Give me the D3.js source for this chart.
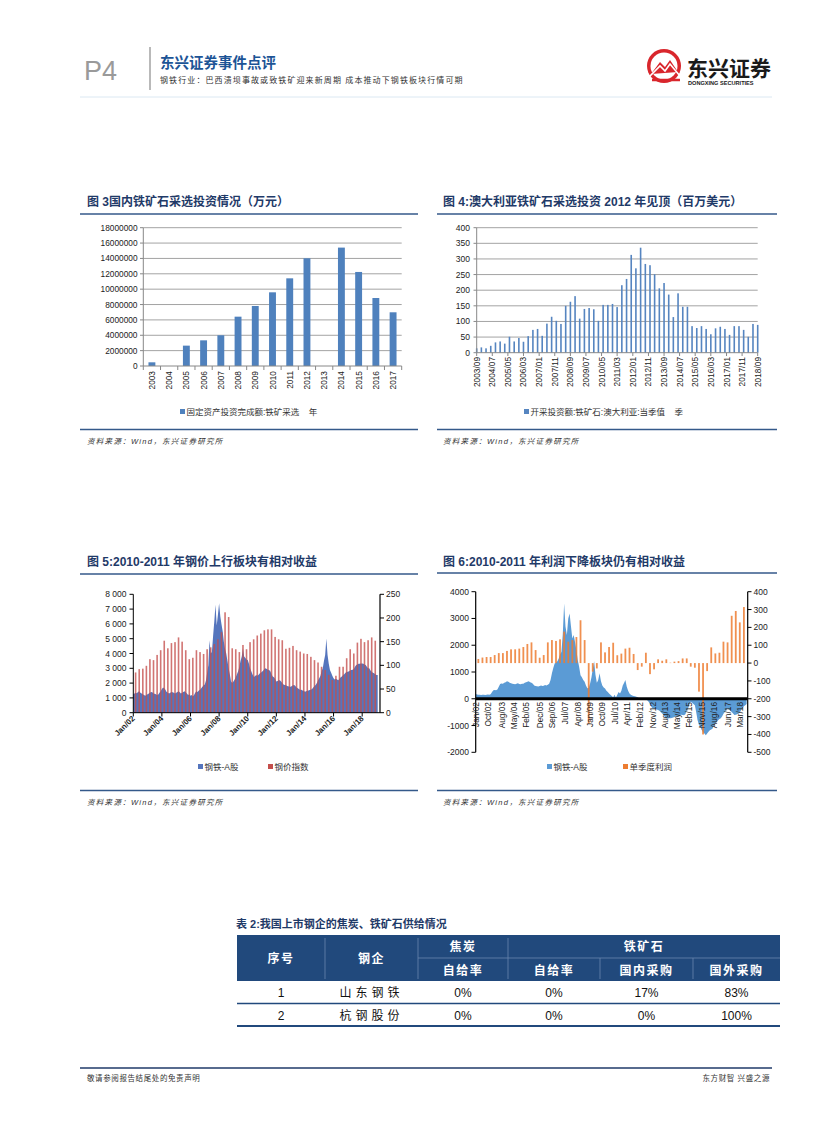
<!DOCTYPE html>
<html><head><meta charset="utf-8">
<script src="https://cdn.jsdelivr.net/npm/d3@7"></script>
<style>
body{margin:0;background:#fff;}
svg text{font-family:"Liberation Sans","Noto Sans CJK SC",sans-serif;white-space:pre;}
</style></head><body>
<svg id="page" width="827" height="1122"></svg>
<script>
// ---------------- DATA ----------------
// Chart 3: domestic iron ore mining investment (万元)
const years3 = ["2003","2004","2005","2006","2007","2008","2009","2010","2011","2012","2013","2014","2015","2016","2017"];
const invest3 = [480000,0,2650000,3340000,4000000,6420000,7810000,9590000,11410000,14020000,0,15410000,12240000,8850000,6990000];
const yTicks3 = [0,2000000,4000000,6000000,8000000,10000000,12000000,14000000,16000000,18000000];

// Chart 4: Australia iron ore mining investment, quarterly from 2003/09 (百万美元)
const aus4 = [14,17,14,22,33,36,29,51,36,47,35,53,73,76,54,93,115,102,92,150,163,181,109,140,143,139,102,153,153,156,146,216,236,313,270,336,284,280,251,206,223,186,114,190,147,147,85,79,85,76,59,78,83,76,57,85,85,73,51,92,89];
const ticks4 = ["2003/09","2004/07","2005/05","2006/03","2007/01","2007/11","2008/09","2009/07","2010/05","2011/03","2012/01","2012/11","2013/09","2014/07","2015/05","2016/03","2017/01","2017/11","2018/09"];
const yTicks4 = [0,50,100,150,200,250,300,350,400];

// Chart 5: 钢铁-A股 index (monthly from Jan 2002) and 钢价指数 (quarterly from Mar 2002)
const steel5 = [
1250,1300,1350,1320,1400,1450,1350,1300,1250,1200,1150,1200,
1250,1300,1350,1400,1380,1300,1280,1250,1200,1230,1350,1450,
1600,1700,1650,1550,1400,1350,1300,1350,1400,1380,1350,1300,
1350,1400,1450,1380,1300,1350,1400,1450,1380,1300,1200,1250,
1150,1200,1100,1200,1350,1450,1400,1500,1550,1650,1750,1850,
1900,2200,2700,3200,4900,4000,4100,5200,6200,7300,5900,6600,
7400,6500,6000,5500,4800,4300,4000,3500,3000,2600,2100,2000,
2100,2250,2400,2600,2800,3100,3500,3800,4350,3800,3700,3600,
3560,3300,3000,2800,2600,2430,2450,2550,2500,2550,2650,2700,
2770,2850,2950,3000,2950,2900,2880,2800,2600,2450,2400,2300,
2100,2150,2200,2200,2100,2000,1900,1870,1850,1800,1780,1760,
1760,1800,1850,1870,1800,1700,1650,1600,1530,1550,1500,1480,
1420,1450,1480,1500,1530,1550,1600,1700,1800,1870,2000,2200,
2320,2500,2800,3000,3500,3900,5020,3900,3300,2880,2700,2500,
2320,2250,2300,2250,2200,2300,2400,2450,2550,2600,2700,2750,
2770,2800,2850,2880,2900,2950,3100,3220,3250,3300,3300,3320,
3330,3300,3250,3220,3100,3000,3000,2850,2770,2700,2660,2600,
2550,2550];
const price5 = [85,92,93,99, 113,111,122,132, 152,136,147,149, 159,150,132,113, 116,132,128,124, 134,138,145,155, 170,212,202,136, 134,128,143,134, 149,155,163,167, 174,176,176,160, 155,153,135,137, 141,132,129,125, 124,118,111,106, 97,90,80,69, 78,97,97,115, 134,125,148,156, 149,153,159,152];
const ticks5 = ["Jan/02","Jan/04","Jan/06","Jan/08","Jan/10","Jan/12","Jan/14","Jan/16","Jan/18"];
const yTicks5L = [0,1000,2000,3000,4000,5000,6000,7000,8000];
const yTicks5R = [0,50,100,150,200,250];

// Chart 6: 钢铁-A股 (monthly from Jan 2002) and 单季度利润 (quarterly from Mar 2002)
const steel6 = [
180,160,150,150,140,150,150,140,150,160,150,170,
250,320,330,320,350,450,550,570,560,600,620,650,
640,600,580,560,550,540,560,580,550,540,560,560,
600,620,640,650,620,600,560,500,480,470,460,480,
500,480,490,510,500,520,560,700,950,1150,1320,1350,
1400,1500,1650,1750,2400,3560,2700,2380,3000,3190,2700,2250,
2380,2100,1800,1440,1200,880,800,700,635,500,390,400,
570,800,1100,1400,900,600,700,950,650,500,420,380,
300,250,200,150,100,60,150,50,150,250,200,300,
500,600,700,450,300,200,150,120,100,90,80,60,
20,10,15,5,0,-20,-60,-110,-200,-300,-360,-360,
-380,-400,-420,-450,-500,-550,-600,-680,-730,-740,-730,-730,
-720,-700,-680,-670,-650,-630,-610,-600,-610,-620,-580,-450,
-360,-200,-110,-150,-200,-240,-500,-800,-980,-1050,-1170,-1250,
-1300,-1360,-1300,-1230,-1180,-1150,-1110,-1000,-920,-860,-800,-760,
-730,-650,-560,-490,-420,-360,-400,-450,-490,-550,-610,-600,
-580,-550,-520,-420,-350,-280,-240,-200];
const profit6 = [23,31,34,34, 45,56,56,68, 77,77,81,90, 107,116,73,30, 45,116,129,124, 133,176,120,129, 146,240,129,-340, -48,-30,116,60, 90,114,44,53, 81,86,51,-39, -20,58,-62,-35, 21,13,21,2, 8,11,26,26, -20,-26,-160,-400, -45,88,54,58, 120,116,265,292, 228,314];
const ticks6 = ["Jan/02","Oct/02","Aug/03","May/04","Feb/05","Dec/05","Sep/06","Jul/07","Apr/08","Jan/09","Oct/09","Jul/10","Apr/11","Feb/12","Nov/12","Aug/13","May/14","Feb/15","Nov/15","Aug/16","Jun/17","Mar/18"];
const yTicks6L = [-2000,-1000,0,1000,2000,3000,4000];
const yTicks6R = [-500,-400,-300,-200,-100,0,100,200,300,400];

// Table 2
const tableRows = [
  ["1","山东钢铁","0%","0%","17%","83%"],
  ["2","杭钢股份","0%","0%","0%","100%"]
];

// ---------------- DRAW ----------------
const svg = d3.select("#page");
const NAVY = "#1f3a68", LINE = "#34598a", BLUE = "#4f81bd";

function T(x, y, s, o = {}) {
  const t = svg.append("text").attr("x", x).attr("y", y).text(s)
    .attr("font-size", o.size || 8).attr("fill", o.fill || "#222")
    .attr("text-anchor", o.anchor || "start");
  if (o.weight) t.attr("font-weight", o.weight);
  if (o.style) t.attr("font-style", o.style);
  if (o.ls) t.attr("letter-spacing", o.ls);
  if (o.tr) t.attr("transform", o.tr);
  return t;
}
function L(x1, y1, x2, y2, c, w) {
  return svg.append("line").attr("x1", x1).attr("y1", y1).attr("x2", x2).attr("y2", y2)
    .attr("stroke", c).attr("stroke-width", w);
}

// Header
T(84, 80, "P4", {size: 27, fill: "#9a9a9a"}).attr("font-weight", 300);
L(150, 47, 150, 90, "#8a8a8a", 1.2);
T(160, 68, "东兴证券事件点评", {size: 14.5, weight: "bold", fill: "#1c5496"});
T(160, 83, "钢铁行业：巴西溃坝事故或致铁矿迎来新周期 成本推动下钢铁板块行情可期", {size: 8, fill: "#333", ls: 1.1});
// logo
svg.append("circle").attr("cx", 664).attr("cy", 66).attr("r", 17).attr("fill", "#d9262c");
svg.append("circle").attr("cx", 664).attr("cy", 66).attr("r", 13.5).attr("fill", "#fff");
svg.append("path").attr("d", "M651,74 L660,62 L665,67 L670,60 L678,72 Z").attr("fill", "#d9262c");
svg.append("path").attr("d", "M649,77 L660,66 L665,71 L670,64 L680,76").attr("fill", "none").attr("stroke", "#fff").attr("stroke-width", 1.6);
svg.append("path").attr("d", "M652,80 L680,80").attr("stroke", "#d9262c").attr("stroke-width", 2.5);
T(687, 76, "东兴证券", {size: 21, weight: "bold", fill: "#1a1a1a"});
T(688, 85, "DONGXING SECURITIES", {size: 5.6, weight: "bold", fill: "#1a1a1a"});
L(80, 97, 772, 97, "#dbe8f2", 1);

// Section frames
function section(x0, x1, tx, ty, title, lineY, botY, srcY) {
  T(tx, ty, title, {size: 12, weight: "bold", fill: NAVY});
  L(x0, lineY, x1, lineY, LINE, 1.5);
  L(x0, botY, x1, botY, LINE, 1.5);
  T(tx, srcY, "资料来源：Wind，东兴证券研究所", {size: 7.5, style: "italic", fill: "#333", ls: 1.3});
}
section(80, 418, 87, 206, "图 3国内铁矿石采选投资情况（万元）", 214, 429.5, 444);
section(437, 777, 443, 206, "图 4:澳大利亚铁矿石采选投资 2012 年见顶（百万美元）", 214, 429.5, 444);
section(80, 418, 87, 566, "图 5:2010-2011 年钢价上行板块有相对收益", 574, 790.5, 805);
section(437, 777, 443, 566, "图 6:2010-2011 年利润下降板块仍有相对收益", 573, 790.5, 805);

function legendItem(x, y, color, label) {
  svg.append("rect").attr("x", x).attr("y", y - 5).attr("width", 5).attr("height", 5).attr("fill", color);
  T(x + 6.5, y + 0.5, label, {size: 8.5, fill: "#333"});
}

// ---- Chart 3 ----
{
  const x = d3.scaleBand().domain(years3).range([143.3, 401.7]).paddingInner(0.6).paddingOuter(0.3);
  const y = d3.scaleLinear().domain([0, 18000000]).range([366, 227.7]);
  yTicks3.forEach(v => {
    if (v > 0) L(143.3, y(v), 401.7, y(v), "#a3a3a3", 1);
    L(140, y(v), 143.3, y(v), "#888", 1);
    T(137.5, y(v) + 3, String(v), {size: 8.3, anchor: "end", fill: "#222"});
  });
  svg.append("g").selectAll("rect").data(invest3).join("rect")
    .attr("x", (d, i) => x(years3[i])).attr("width", x.bandwidth())
    .attr("y", d => y(d)).attr("height", d => y(0) - y(d)).attr("fill", BLUE);
  L(143.3, 227.7, 143.3, 366, "#888", 1);
  L(143.3, 366, 401.7, 366, "#888", 1);
  const step = x.step();
  years3.forEach((yr, i) => {
    const bx = 143.3 + i * step;
    L(bx, 366, bx, 370, "#888", 1);
    T(0, 0, yr, {size: 8.3, anchor: "end", tr: `translate(${x(yr) + x.bandwidth() / 2 + 3},${371}) rotate(-90)`});
  });
  L(401.7, 366, 401.7, 370, "#888", 1);
  legendItem(180, 414, BLUE, "固定资产投资完成额:铁矿采选\u00a0\u00a0\u00a0\u00a0年");
}

// ---- Chart 4 ----
{
  const p4 = d3.timeParse("%Y/%m");
  const x = d3.scaleTime().domain([new Date(2003, 8, 1), new Date(2018, 8, 1)]).range([476.7, 757.7]);
  const y = d3.scaleLinear().domain([0, 400]).range([352.7, 227.7]);
  yTicks4.forEach(v => {
    if (v > 0) L(476.7, y(v), 757.7, y(v), "#a3a3a3", 1);
    L(473.5, y(v), 476.7, y(v), "#888", 1);
    T(470, y(v) + 3, String(v), {size: 8.5, anchor: "end"});
  });
  svg.append("g").selectAll("rect").data(aus4).join("rect")
    .attr("x", (d, i) => x(new Date(2003, 8 + 3 * i, 1)) - 0.8).attr("width", 1.6)
    .attr("y", d => y(d)).attr("height", d => y(0) - y(d)).attr("fill", "#5685c0");
  L(476.7, 227.7, 476.7, 352.7, "#888", 1);
  L(476.7, 352.7, 757.7, 352.7, "#888", 1);
  ticks4.forEach(s => {
    const tx = x(p4(s));
    L(tx, 352.7, tx, 356, "#888", 1);
    T(0, 0, s, {size: 8.3, anchor: "end", tr: `translate(${tx + 3},${357}) rotate(-90)`});
  });
  legendItem(524, 414, "#5685c0", "开采投资额:铁矿石:澳大利亚:当季值\u00a0\u00a0\u00a0\u00a0季");
}

// ---- Chart 5 ----
{
  const p5 = d3.timeParse("%b/%y");
  const x = d3.scaleTime().domain([new Date(2002, 0, 1), new Date(2019, 3, 1)]).range([133.3, 380]);
  const yL = d3.scaleLinear().domain([0, 8000]).range([712.7, 594.3]);
  const yR = d3.scaleLinear().domain([0, 250]).range([712.7, 594.3]);
  const area = d3.area().x((d, i) => x(new Date(2002, i, 1))).y0(yL(0)).y1(d => yL(d)).curve(d3.curveLinear);
  svg.append("path").datum(steel5).attr("d", area).attr("fill", "#5575bd");
  svg.append("g").selectAll("rect").data(price5).join("rect")
    .attr("x", (d, i) => x(new Date(2002, 2 + 3 * i, 1)) - 0.8).attr("width", 1.6)
    .attr("y", d => yR(d)).attr("height", d => yR(0) - yR(d)).attr("fill", "#c44e4b").attr("opacity", 0.78);
  L(133.3, 594.3, 133.3, 712.7, "#000", 1);
  L(380, 594.3, 380, 712.7, "#000", 1.2);
  L(133.3, 712.7, 380, 712.7, "#000", 1);
  yTicks5L.forEach(v => {
    L(129.5, yL(v), 133.3, yL(v), "#000", 1);
    T(126.5, yL(v) + 3, d3.format(",")(v).replace(",", " "), {size: 8.5, anchor: "end"});
  });
  yTicks5R.forEach(v => {
    L(380, yR(v), 384, yR(v), "#000", 1);
    T(386, yR(v) + 3, String(v), {size: 8.5});
  });
  ticks5.forEach(s => {
    const tx = x(p5(s));
    L(tx, 712.7, tx, 716.5, "#000", 1);
    T(0, 0, s, {size: 8, anchor: "end", weight: "bold", tr: `translate(${tx + 2},${719}) rotate(-45)`});
  });
  legendItem(198, 769, "#5575bd", "钢铁-A股");
  legendItem(268, 769, "#c44e4b", "钢价指数");
}

// ---- Chart 6 ----
{
  const p6 = d3.timeParse("%b/%y");
  const x = d3.scaleTime().domain([new Date(2002, 0, 1), new Date(2018, 7, 25)]).range([475.7, 747.7]);
  const yL = d3.scaleLinear().domain([-2000, 4000]).range([752.3, 591.7]);
  const yR = d3.scaleLinear().domain([-500, 400]).range([752.3, 591.7]);
  const area = d3.area().x((d, i) => x(new Date(2002, i, 1))).y0(yL(0)).y1(d => yL(d));
  svg.append("path").datum(steel6).attr("d", area).attr("fill", "#5b9bd5");
  svg.append("g").selectAll("rect").data(profit6).join("rect")
    .attr("x", (d, i) => x(new Date(2002, 2 + 3 * i, 1)) - 0.9).attr("width", 1.8)
    .attr("y", d => Math.min(yR(d), yR(0))).attr("height", d => Math.abs(yR(0) - yR(d)))
    .attr("fill", "#ed7d31").attr("opacity", 0.85);
  L(475.7, yL(0), 747.7, yL(0), "#000", 3);
  L(475.7, 591.7, 475.7, 752.3, "#000", 1.2);
  L(747.7, 591.7, 747.7, 752.3, "#000", 1.2);
  yTicks6L.forEach(v => {
    L(471.5, yL(v), 475.7, yL(v), "#000", 1);
    T(469, yL(v) + 3, String(v), {size: 8.5, anchor: "end"});
  });
  yTicks6R.forEach(v => {
    L(747.7, yR(v), 751.5, yR(v), "#000", 1);
    T(753.5, yR(v) + 3, String(v), {size: 8.5});
  });
  ticks6.forEach(s => {
    const tx = x(p6(s));
    T(0, 0, s, {size: 8.3, anchor: "end", tr: `translate(${tx + 3},${702}) rotate(-90)`});
  });
  legendItem(547, 769, "#5b9bd5", "钢铁-A股");
  legendItem(623, 769, "#ed7d31", "单季度利润");
}

// ---- Table 2 ----
{
  T(236, 928, "表 2:我国上市钢企的焦炭、铁矿石供给情况", {size: 11, weight: "bold", fill: "#1f3a68"});
  const cols = [237, 325, 418, 508, 600, 693, 780];
  const top = 935, mid = 958, hb = 981;
  svg.append("rect").attr("x", cols[0]).attr("y", top).attr("width", cols[6] - cols[0]).attr("height", hb - top).attr("fill", "#21497c");
  const IL = "#6a86ad";
  L(cols[1], top + 3, cols[1], hb - 2, IL, 0.8);
  L(cols[2], top + 3, cols[2], hb - 2, IL, 0.8);
  L(cols[3], top + 3, cols[3], hb - 2, IL, 0.8);
  L(cols[4], mid, cols[4], hb - 2, IL, 0.8);
  L(cols[5], mid, cols[5], hb - 2, IL, 0.8);
  L(cols[2], mid, cols[6], mid, IL, 0.8);
  const c = i => (cols[i] + cols[i + 1]) / 2;
  const H = {size: 12, weight: "bold", fill: "#fff", anchor: "middle", ls: 1.5};
  T(c(0), 962.5, "序号", H);
  T(c(1), 962.5, "钢企", H);
  T(c(2), 951, "焦炭", H);
  T((cols[3] + cols[6]) / 2, 951, "铁矿石", H);
  T(c(2), 974.5, "自给率", H);
  T(c(3), 974.5, "自给率", H);
  T(c(4), 974.5, "国内采购", H);
  T(c(5), 974.5, "国外采购", H);
  const rowY = [997, 1020];
  tableRows.forEach((r, ri) => {
    r.forEach((v, ci) => {
      T(c(ci), rowY[ri], v, {size: 12, anchor: "middle", fill: "#111", ls: ci === 1 ? 4 : 0});
    });
  });
  L(cols[0], 1003.5, cols[6], 1003.5, "#21497c", 1.5);
  L(cols[0], 1026, cols[6], 1026, "#21497c", 2);
}

// Footer
L(80, 1068, 772, 1068, "#1f3a68", 1.5);
T(87, 1081, "敬请参阅报告结尾处的免责声明", {size: 7.5, fill: "#333", ls: 0.6});
T(770, 1081, "东方财智 兴盛之源", {size: 7.5, fill: "#333", anchor: "end", ls: 0.6});
</script>
</body></html>
